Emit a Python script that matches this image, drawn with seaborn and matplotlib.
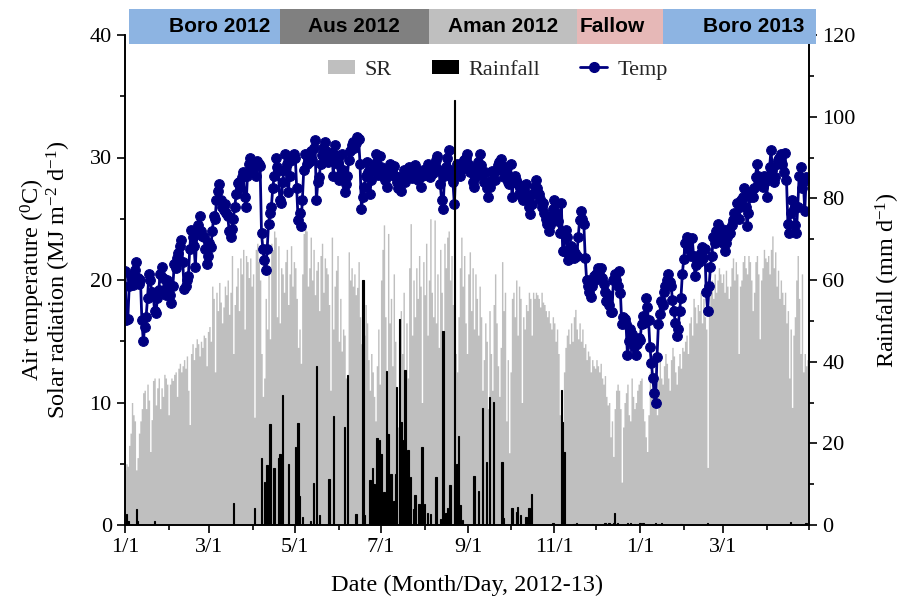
import pandas as pd
import numpy as np
import seaborn as sns
import matplotlib.pyplot as plt
import matplotlib.transforms as mtransforms
from matplotlib.patches import Patch, Rectangle
from matplotlib.lines import Line2D
from matplotlib.ticker import MultipleLocator

start = pd.Timestamp('2012-01-01')

# daily mean air temperature (deg C), 1 Jan 2012 - 30 Apr 2013
temp = [
    # Jan 2012
    20.7, 16.7, 16.8, 19.5, 20.3, 20.0, 19.6, 20.8, 21.5, 20.2, 19.7, 20.0, 16.7, 15.0, 16.2, 17.0,
    18.5, 20.5, 20.0, 19.0, 18.9, 17.5, 17.3, 18.5, 19.2, 20.5, 21.1, 20.2, 19.2, 18.8, 20.0,
    # Feb
    19.5, 18.8, 18.1, 19.5, 21.3, 21.0, 21.8, 22.2, 22.8, 23.3, 21.5, 19.3, 19.5, 20.0, 20.3,
    22.5, 24.1, 23.5, 22.8, 21.1, 23.8, 24.5, 25.2, 24.0, 23.6, 23.5, 22.5, 21.3, 22.0,
    # Mar
    23.0, 22.7, 24.0, 25.2, 25.0, 26.5, 27.3, 27.8, 26.5, 26.0, 25.7, 26.2, 25.5, 25.2, 24.0, 23.5,
    24.2, 25.0, 26.0, 27.0, 27.9, 28.0, 27.5, 28.4, 28.8, 26.8, 26.0, 28.5, 29.5, 30.0, 29.2,
    # Apr
    29.0, 29.4, 28.5, 29.7, 29.5, 29.3, 23.8, 22.5, 21.6, 20.8, 22.5, 24.6, 25.5, 26.0, 27.5,
    28.5, 30.0, 29.2, 28.9, 26.5, 26.3, 28.0, 29.0, 30.3, 29.5, 27.2, 28.5, 30.0, 29.8, 30.3,
    # May
    30.0, 27.5, 24.9, 25.5, 24.4, 26.5, 29.0, 30.3, 29.5, 30.0, 29.6, 30.5, 29.8, 30.8, 31.4, 26.5,
    28.0, 28.4, 29.5, 30.2, 30.8, 31.3, 30.5, 29.6, 30.0, 29.8, 30.4, 28.5, 31.0, 30.2, 29.5,
    # Jun
    28.2, 28.5, 30.3, 29.0, 27.2, 27.8, 28.5, 29.8, 30.5, 31.0, 31.3, 30.8, 31.2, 31.7, 31.5,
    29.5, 25.8, 26.8, 27.6, 28.5, 29.6, 28.8, 27.0, 28.2, 29.0, 29.5, 30.3, 29.0, 28.6, 30.1,
    # Jul
    29.2, 28.5, 29.0, 28.2, 27.6, 28.8, 29.5, 28.6, 28.9, 29.3, 28.5, 28.0, 27.5, 28.4, 27.3, 28.2,
    29.0, 28.0, 28.6, 28.9, 29.2, 28.7, 28.3, 28.9, 29.4, 28.6, 28.2, 28.8, 27.6, 28.5, 29.0,
    # Aug
    28.6, 29.0, 29.5, 28.8, 28.4, 29.1, 28.7, 29.4, 29.8, 30.1, 29.0, 27.8, 26.5, 25.8, 28.5, 29.2,
    30.0, 30.6, 29.0, 28.3, 28.0, 26.2, 28.9, 29.5, 29.2, 28.5, 29.0, 29.6, 29.8, 30.0, 30.3,
    # Sep
    29.5, 28.8, 29.2, 28.0, 27.6, 28.4, 29.0, 29.6, 30.3, 29.4, 28.6, 28.0, 28.8, 27.5, 26.8,
    27.6, 28.2, 28.9, 28.8, 28.2, 29.0, 29.4, 29.6, 29.9, 29.0, 28.4, 28.8, 29.2, 28.0, 27.8,
    # Oct
    29.5, 26.8, 28.0, 28.5, 28.2, 27.8, 27.0, 27.5, 26.8, 26.5, 27.2, 27.8, 26.6, 26.0, 25.4, 26.2,
    27.0, 27.6, 28.2, 27.5, 27.0, 26.6, 26.0, 26.3, 25.5, 25.0, 24.6, 24.0, 24.5, 25.2, 25.8,
    # Nov
    26.5, 26.3, 25.5, 24.8, 23.8, 26.3, 22.4, 22.4, 24.1, 23.5, 21.6, 22.0, 22.8, 22.5, 21.8,
    22.2, 22.0, 23.5, 24.9, 25.6, 25.0, 24.6, 21.8, 20.0, 19.5, 19.0, 18.6, 19.5, 20.3, 20.0,
    # Dec
    20.5, 21.0, 20.5, 21.0, 20.2, 19.7, 19.0, 18.3, 18.8, 18.0, 17.4, 17.4, 20.0, 20.5, 20.0, 19.5,
    20.7, 18.9, 16.4, 17.0, 16.8, 16.4, 13.9, 15.0, 16.0, 15.6, 15.0, 14.5, 13.9, 14.8, 15.3,
    # Jan 2013
    15.1, 16.4, 17.1, 16.5, 18.5, 17.8, 16.7, 14.5, 13.2, 12.0, 10.8, 10.0, 13.7, 16.4, 17.2, 18.3,
    18.0, 19.0, 19.5, 20.0, 20.5, 19.8, 19.5, 18.4, 17.5, 16.5, 15.4, 16.0, 17.5, 18.5, 20.5,
    # Feb
    21.7, 23.0, 23.5, 22.5, 23.3, 22.0, 23.4, 22.0, 20.3, 21.2, 22.0, 21.5, 22.2, 22.7,
    21.8, 22.5, 19.0, 17.5, 19.5, 21.1, 22.0, 23.5, 23.0, 24.0, 24.6, 24.0, 23.5, 24.2,
    # Mar
    23.0, 22.4, 23.0, 23.5, 24.2, 23.8, 24.5, 24.9, 25.5, 25.2, 26.3, 25.0, 26.0, 26.5, 26.8, 27.5,
    26.0, 24.4, 25.5, 26.8, 27.2, 26.8, 27.5, 28.4, 29.5, 28.5, 27.8, 28.2, 27.6, 28.5, 28.0,
    # Apr
    26.8, 28.5, 29.2, 30.6, 29.0, 28.0, 28.4, 29.5, 29.8, 30.0, 30.3, 29.5, 28.8, 30.4, 28.2,
    24.6, 23.8, 25.5, 26.5, 25.8, 24.5, 23.8, 26.0, 28.5, 29.2, 27.5, 28.0, 25.6, 28.4, 28.3,
]

# daily solar radiation (MJ m-2 d-1)
sr = [
    # Jan 2012
    4.5, 5.0, 4.8, 6.5, 7.5, 10.0, 9.0, 8.5, 4.5, 5.5, 7.5, 8.5, 9.5, 10.8, 11.0, 9.5,
    11.5, 10.2, 6.0, 8.6, 11.8, 12.0, 9.8, 11.2, 12.0, 9.5, 11.2, 10.5, 12.3, 12.0, 11.5,
    # Feb
    9.0, 11.5, 12.0, 11.8, 12.3, 12.5, 10.5, 12.8, 13.2, 12.5, 13.0, 13.5, 12.8, 13.8, 11.0,
    8.2, 14.0, 14.8, 13.5, 14.5, 15.2, 14.8, 13.8, 15.0, 14.5, 15.5, 15.3, 13.0, 15.8,
    # Mar
    16.2, 15.0, 19.5, 18.5, 12.5, 19.0, 17.5, 19.8, 18.2, 16.5, 17.8, 19.5, 18.8, 20.0, 17.2, 19.0,
    22.0, 14.0, 18.0, 19.5, 21.0, 17.5, 21.8, 20.5, 22.5, 16.0, 22.0, 21.5, 20.2, 21.8, 19.5,
    # Apr
    20.5, 8.8, 22.5, 23.0, 21.5, 20.0, 14.0, 10.5, 12.0, 18.5, 16.0, 21.0, 15.2, 23.0, 22.5,
    24.0, 23.5, 17.0, 22.8, 16.5, 21.0, 20.5, 19.0, 21.5, 22.5, 18.0, 20.5, 22.8, 19.5, 21.5,
    # May
    21.0, 18.5, 14.5, 16.0, 13.2, 20.5, 23.8, 24.2, 24.0, 19.5, 21.0, 23.5, 20.0, 22.5, 18.8, 20.8,
    21.5, 17.5, 22.0, 23.0, 19.0, 21.8, 21.0, 20.5, 18.0, 11.0, 23.5, 16.0, 19.5, 20.8, 22.0,
    # Jun
    15.0, 18.5, 14.2, 16.0, 15.5, 12.0, 11.5, 22.3, 20.0, 21.0, 19.5, 20.5, 18.8, 19.4, 21.5,
    17.0, 14.8, 8.0, 15.5, 18.0, 16.5, 13.5, 11.0, 14.0, 12.5, 10.5, 8.5, 13.0, 16.0, 11.5,
    # Jul
    20.0, 22.5, 24.5, 17.0, 9.5, 23.8, 16.5, 18.5, 13.0, 20.5, 15.0, 10.5, 8.0, 12.5, 17.5, 14.0,
    19.0, 9.5, 16.5, 12.0, 21.0, 24.6, 15.5, 20.0, 17.0, 21.0, 18.5, 22.0, 19.5, 10.0, 21.5,
    # Aug
    18.8, 23.0, 15.5, 20.0, 25.0, 19.0, 17.0, 24.9, 16.5, 20.5, 14.5, 22.5, 19.0, 10.5, 23.0, 21.0,
    23.5, 24.0, 20.0, 22.0, 18.0, 9.0, 14.0, 12.5, 17.0, 21.0, 23.5, 19.5, 22.0, 16.5, 14.0,
    # Sep
    20.5, 22.3, 17.5, 21.0, 16.0, 20.5, 18.5, 15.5, 19.5, 17.0, 11.0, 13.5, 16.5, 15.0, 9.5,
    17.5, 14.0, 11.0, 18.0, 20.5, 16.5, 13.0, 10.5, 14.5, 21.5, 17.5, 19.0, 8.5, 13.5, 5.9,
    # Oct
    12.5, 18.5, 19.0, 17.0, 20.0, 15.5, 19.5, 18.5, 10.0, 17.0, 16.0, 18.0, 17.5, 19.0, 18.5, 15.5,
    19.0, 18.5, 19.0, 18.8, 18.5, 17.8, 19.0, 18.2, 18.0, 17.5, 17.0, 17.5, 16.5, 16.0, 17.0,
    # Nov
    16.5, 15.0, 16.0, 14.0, 9.0, 6.5, 8.0, 12.5, 14.5, 15.5, 16.0, 14.8, 16.5, 15.0, 17.0,
    17.6, 16.0, 15.2, 16.5, 15.0, 16.0, 14.5, 14.8, 13.5, 14.2, 13.8, 12.5, 13.5, 13.0, 12.8,
    # Dec
    13.5, 13.0, 12.5, 13.2, 12.0, 11.5, 12.2, 10.5, 9.8, 10.0, 7.2, 8.5, 5.6, 9.5, 11.0, 11.5,
    11.0, 9.5, 3.5, 8.0, 10.0, 10.8, 11.5, 9.0, 8.5, 12.0, 10.5, 9.5, 10.0, 11.0, 11.5,
    # Jan 2013
    11.8, 12.0, 9.5, 8.5, 7.2, 6.0, 9.0, 12.5, 11.0, 11.5, 10.0, 10.5, 9.0, 12.0, 13.5, 12.0,
    11.5, 13.0, 14.0, 13.2, 12.0, 11.0, 13.5, 14.5, 13.8, 12.5, 11.5, 13.0, 14.0, 12.8, 14.5,
    # Feb
    14.2, 15.0, 15.5, 14.0, 16.5, 17.0, 15.5, 18.5, 17.8, 16.5, 18.0, 17.5, 19.0, 16.5,
    18.5, 17.0, 16.0, 4.7, 17.5, 19.5, 20.0, 18.5, 20.5, 19.0, 20.0, 21.0, 20.5, 19.8,
    # Mar
    20.5, 19.0, 20.8, 19.5, 18.5, 19.5, 21.0, 21.8, 20.0, 21.5, 20.5, 14.0, 19.5, 20.0, 21.5, 22.0,
    21.0, 20.5, 22.0, 21.5, 20.0, 17.5, 19.0, 21.5, 22.0, 20.5, 15.2, 20.0, 21.0, 22.5, 21.8,
    # Apr
    21.5, 22.0, 20.5, 22.5, 23.6, 21.0, 22.3, 19.5, 20.8, 18.5, 20.0, 19.0, 18.0, 19.0, 16.5,
    17.5, 12.0, 16.0, 9.6, 15.5, 17.0, 20.0, 22.0, 18.5, 14.0, 20.5, 12.5, 14.0, 13.0, 13.5,
]

# rainy days (days since 1 Jan 2012) and rainfall (mm d-1)
rain_day = [1, 2, 8, 9, 21, 77, 92, 97, 99, 101, 103, 106, 109, 110, 112, 116, 121, 123, 124, 126,
            132, 134, 136, 138, 145, 148, 156, 158, 164, 169, 170, 174, 176, 177, 179, 181, 182, 184,
            186, 187, 189, 191, 192, 193, 195, 196, 198, 199, 201, 203, 205, 206, 209, 211, 213, 215,
            217, 221, 224, 226, 228, 229, 231, 234, 236, 237, 238, 240, 248, 251, 254, 257, 259, 262,
            268, 269, 275, 278, 279, 281, 285, 287, 289, 304, 310, 311, 312, 319, 321, 332, 341, 344,
            347, 348, 350, 357, 359, 362, 366, 368, 377, 379, 381, 395, 414, 473, 484]
rain_mm = [2.6, 1.0, 3.8, 1.0, 1.0, 5.5, 4.2, 16.3, 10.6, 14.7, 24.7, 13.9, 16.3, 17.5, 31.8, 14.9,
           19.2, 25.1, 7.0, 2.0, 1.0, 10.4, 39.0, 2.5, 11.2, 26.6, 24.1, 36.7, 2.8, 60.0, 2.5, 11.0,
           13.9, 10.0, 21.2, 20.8, 17.5, 8.0, 37.8, 22.4, 12.6, 6.0, 12.6, 33.9, 50.5, 25.3, 20.8,
           38.0, 18.4, 11.7, 4.0, 7.3, 5.2, 19.2, 5.2, 3.0, 2.8, 11.7, 1.5, 47.6, 3.0, 4.1, 9.8,
           104.0, 14.9, 21.8, 5.0, 1.2, 12.1, 8.4, 28.6, 15.5, 31.4, 30.2, 15.5, 1.8, 4.2, 3.3, 4.5,
           2.5, 2.0, 4.1, 7.7, 0.5, 33.1, 25.3, 18.0, 0.3, 0.4, 0.3, 0.5, 0.4, 0.6, 3.0, 0.5, 0.4,
           0.5, 0.3, 0.4, 0.5, 0.4, 0.3, 0.5, 0.3, 0.4, 0.8, 0.6]

# cropping seasons shown in the strip above the plot
seasons = ['Boro 2012', 'Aus 2012', 'Aman 2012', 'Fallow', 'Boro 2013']
season_start = ['2012-01-04', '2012-04-20', '2012-08-04', '2012-11-17', '2013-01-17']
season_end = ['2012-04-20', '2012-08-04', '2012-11-17', '2013-01-17', '2013-05-06']
season_colors = ['#8DB4E2', '#808080', '#BFBFBF', '#E6B8B7', '#8DB4E2']
label_shift = [11, 0, 0, -5, 10]  # days, nudges the text inside each box

assert len(temp) == len(sr) == 486, (len(temp), len(sr))
assert len(rain_day) == len(rain_mm), (len(rain_day), len(rain_mm))

days = np.arange(len(temp))

sns.set_theme(style='ticks')
plt.rcParams['font.family'] = ['Liberation Serif', 'DejaVu Serif']
plt.rcParams['mathtext.fontset'] = 'custom'
plt.rcParams['mathtext.rm'] = 'Liberation Serif'
plt.rcParams['mathtext.it'] = 'Liberation Serif:italic'
plt.rcParams['axes.edgecolor'] = 'black'
plt.rcParams['axes.linewidth'] = 1.2
plt.rcParams['xtick.color'] = 'black'
plt.rcParams['ytick.color'] = 'black'
plt.rcParams['axes.labelcolor'] = 'black'

navy = '#000080'
sr_gray = '#BFBFBF'
tick_fs = 16
label_fs = 17.5

fig = plt.figure(figsize=(9.07, 6.05), dpi=100)
ax = fig.add_axes([125 / 907, 80 / 605, 684 / 907, 490 / 605])

# daily SR as one filled step outline, so neighbouring days touch without gaps
sns.histplot(x=days, weights=sr, discrete=True, element='step', fill=True, color=sr_gray,
             alpha=1, linewidth=0, ax=ax, zorder=1)
sns.lineplot(x=days, y=temp, color=navy, marker='o', markersize=7, markeredgecolor=navy,
             linewidth=2.0, ax=ax, zorder=3)

ax2 = ax.twinx()
sns.barplot(x=rain_day, y=rain_mm, native_scale=True, width=1.0, color='black', saturation=1,
            linewidth=0.8, edgecolor='black', errorbar=None, ax=ax2)

# month ticks
months = pd.date_range('2012-01-01', '2013-05-01', freq='MS')
month_days = [(m - start).days for m in months]
major = [d for d, m in zip(month_days, months) if m.month % 2 == 1 and d < 480]
major_lab = [f'{m.month}/1' for d, m in zip(month_days, months) if m.month % 2 == 1 and d < 480]
minor = [d for d, m in zip(month_days, months) if m.month % 2 == 0 or d >= 480]

ax.set_xlim(0, month_days[-1])
ax.set_xticks(major)
ax.set_xticklabels(major_lab)
ax.set_xticks(minor, minor=True)

ax.set_ylim(0, 40)
ax.yaxis.set_major_locator(MultipleLocator(10))
ax.yaxis.set_minor_locator(MultipleLocator(5))
ax2.set_ylim(0, 120)
ax2.yaxis.set_major_locator(MultipleLocator(20))
ax2.yaxis.set_minor_locator(MultipleLocator(10))

for a in (ax, ax2):
    a.tick_params(which='major', direction='out', length=6, width=1.2, labelsize=tick_fs)
    a.tick_params(which='minor', direction='out', length=3.5, width=1.2)
    a.spines['top'].set_visible(False)
ax2.spines['right'].set_visible(True)

ax.set_xlabel('Date (Month/Day, 2012-13)', fontsize=label_fs, labelpad=13)
ax.set_ylabel('Air temperature ($^{0}$C)\nSolar radiation (MJ m$^{-2}$ d$^{-1}$)',
              fontsize=label_fs, labelpad=12, linespacing=0.9)
ax2.set_ylabel('Rainfall (mm d$^{-1}$)', fontsize=label_fs, labelpad=13)

# season strip above the axes
trans = mtransforms.blended_transform_factory(ax2.transData, ax2.transAxes)
for name, s0, s1, col, shift in zip(seasons, season_start, season_end, season_colors, label_shift):
    x0 = (pd.Timestamp(s0) - start).days
    x1 = (pd.Timestamp(s1) - start).days
    ax2.add_patch(Rectangle((x0, 0.9816), x1 - x0, 0.0714, transform=trans, facecolor=col,
                            edgecolor='none', clip_on=False, zorder=10))
    ax2.text((x0 + x1) / 2 + shift, 1.017, name, transform=trans, ha='center', va='center',
             fontsize=15, fontweight='bold', family=['Liberation Sans', 'DejaVu Sans'],
             color='black', zorder=11, clip_on=False)

handles = [Patch(facecolor=sr_gray, edgecolor='none'),
           Patch(facecolor='black', edgecolor='none'),
           Line2D([], [], color=navy, marker='o', markersize=7, linewidth=2.0)]
ax2.legend(handles, ['SR', 'Rainfall', 'Temp'], loc='center', bbox_to_anchor=(0.545, 0.929),
           ncol=3, frameon=False, fontsize=16, handlelength=1.2, handleheight=0.6,
           handletextpad=0.45, columnspacing=1.8)

fig.savefig('out.png', dpi=100)
